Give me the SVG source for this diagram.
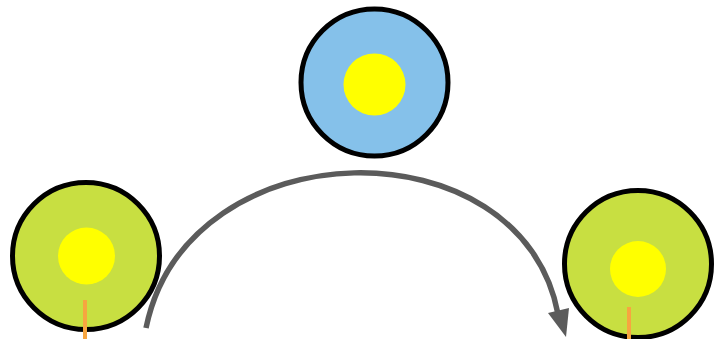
<svg xmlns="http://www.w3.org/2000/svg" width="715" height="339" viewBox="0 0 715 339">
<style>
.ring{stroke:#000;stroke-width:5}
.green{fill:#c8df41}
.blue{fill:#85c1ea}
.core{fill:#ffff00}
.stem{stroke:#f7a540;stroke-width:4}
.conn{fill:none;stroke:#5b5b5b;stroke-width:5.5}
.head{fill:#5b5b5b}
</style>
<rect width="715" height="339" fill="#fff"/>
<g id="node-left">
<circle class="ring green" cx="86" cy="256" r="73.5"/>
<circle class="core" cx="86.5" cy="256" r="28.5"/>
<line class="stem" x1="85" y1="300" x2="85" y2="339"/>
</g>
<g id="node-top">
<circle class="ring blue" cx="374.5" cy="82.5" r="73.5"/>
<circle class="core" cx="374.5" cy="84.5" r="31"/>
</g>
<g id="node-right">
<circle class="ring green" cx="638" cy="264" r="73.5"/>
<circle class="core" cx="638" cy="269" r="28"/>
<line class="stem" x1="629" y1="307" x2="629" y2="339"/>
</g>
<g id="connectors">
<path class="conn" d="M146,328 C188,125 522,122 558,314"/>
<polygon class="head" points="548,313 569,308 566,337"/>
</g>
</svg>
